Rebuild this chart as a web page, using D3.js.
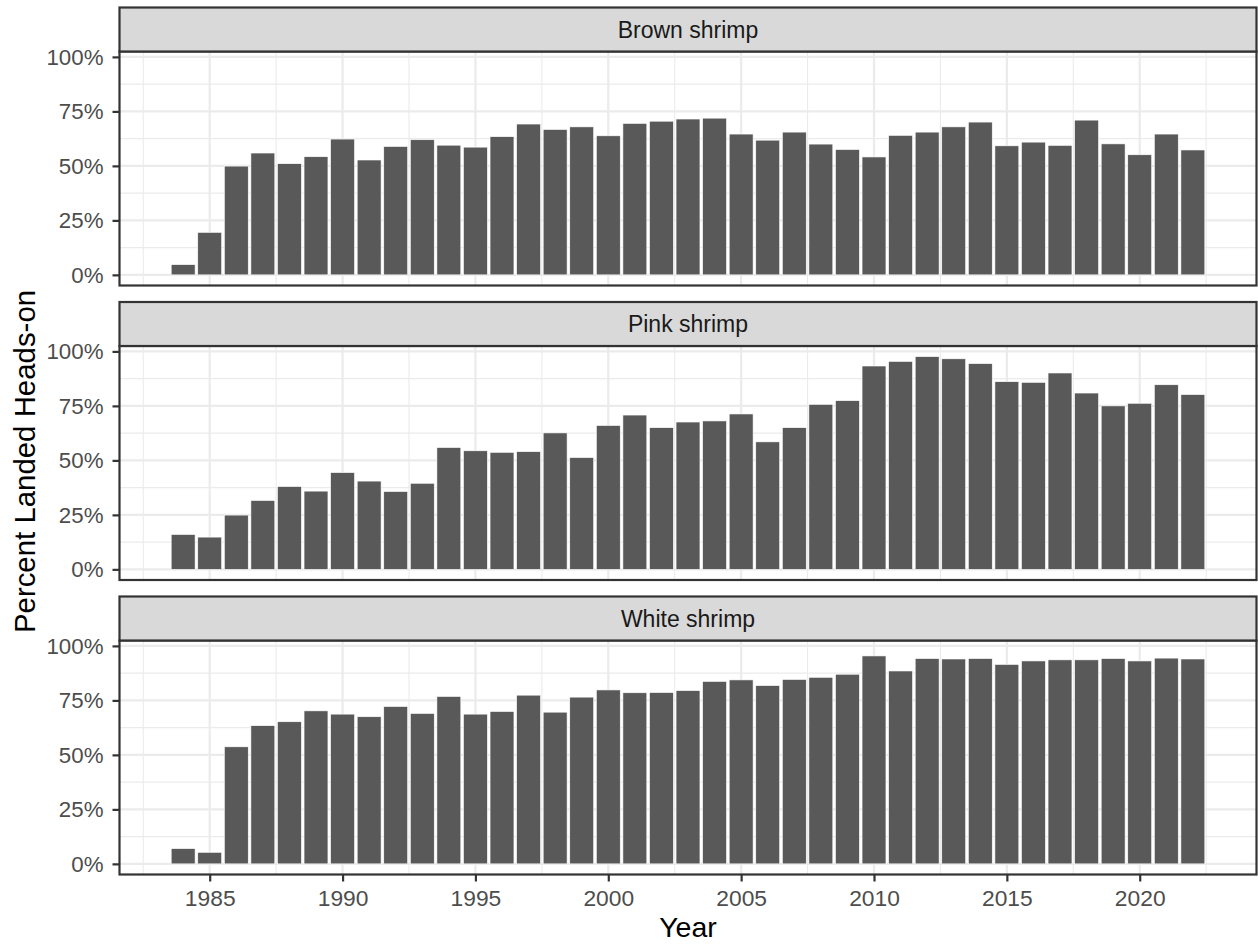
<!DOCTYPE html>
<html>
<head>
<meta charset="utf-8">
<script src="https://cdn.jsdelivr.net/npm/d3@7"></script>
<style>
body{margin:0;background:#fff;}
text{font-family:"Liberation Sans",Arial,sans-serif;}
</style>
</head>
<body>
<svg id="chart" width="1258" height="945"></svg>
<script>
// data (fraction landed heads-on)
var years=[1984,1985,1986,1987,1988,1989,1990,1991,1992,1993,1994,1995,1996,1997,1998,1999,2000,2001,2002,2003,
  2004,2005,2006,2007,2008,2009,2010,2011,2012,2013,2014,2015,2016,2017,2018,2019,2020,2021,2022];
var brown=[0.047,0.195,0.499,0.559,0.51,0.542,0.623,0.527,0.589,0.62,
  0.595,0.586,0.634,0.692,0.667,0.679,0.638,0.695,0.705,0.715,
  0.719,0.646,0.618,0.655,0.60,0.575,0.541,0.64,0.655,0.679,
  0.701,0.592,0.609,0.594,0.71,0.601,0.551,0.646,0.573];
var pink=[0.16,0.148,0.249,0.316,0.38,0.359,0.444,0.405,0.357,0.395,
  0.559,0.544,0.537,0.54,0.626,0.513,0.66,0.708,0.65,0.676,
  0.681,0.713,0.585,0.65,0.757,0.774,0.933,0.954,0.976,0.966,
  0.944,0.861,0.858,0.901,0.809,0.75,0.762,0.847,0.802];
var white=[0.07,0.053,0.537,0.634,0.652,0.702,0.687,0.675,0.722,0.69,
  0.768,0.687,0.699,0.774,0.696,0.765,0.798,0.785,0.786,0.795,
  0.837,0.844,0.818,0.846,0.856,0.87,0.954,0.885,0.942,0.94,
  0.942,0.915,0.931,0.936,0.936,0.942,0.931,0.944,0.94];
var species=['Brown shrimp','Pink shrimp','White shrimp'];
var series=[brown,pink,white];
var yTicks=[0,0.25,0.5,0.75,1];
var yMinor=[0.125,0.375,0.625,0.875];
var xTicks=[1985,1990,1995,2000,2005,2010,2015,2020];
var xMinor=[1982.5,1987.5,1992.5,1997.5,2002.5,2007.5,2012.5,2017.5,2022.5];

var left=119.5,right=1256.5,top0=7.5,stripH=44,panelH=234,step=294.5;
var barW=0.9;

var svg=d3.select('#chart');

// x scale like ggplot: bar extent + 5% expansion
var x0=d3.min(years)-barW/2, x1=d3.max(years)+barW/2;
var xpad=(x1-x0)*0.05;
var x=d3.scaleLinear().domain([x0-xpad,x1+xpad]).range([left,right]);

// shared y scale (fixed facets)
var ymax=d3.max(series,function(s){return d3.max(s);});
var yDom=[-ymax*0.05,ymax*1.05];

series.forEach(function(vals,i){
  var sTop=top0+i*step;
  var pTop=sTop+stripH;
  var pBot=pTop+panelH;
  var y=d3.scaleLinear().domain(yDom).range([pBot,pTop]);
  var g=svg.append('g');

  g.append('rect').attr('x',left).attr('y',pTop).attr('width',right-left).attr('height',panelH).attr('fill','white');

  // minor grid
  g.selectAll('.ymin').data(yMinor).enter().append('line')
    .attr('x1',left).attr('x2',right).attr('y1',function(d){return y(d);}).attr('y2',function(d){return y(d);})
    .attr('stroke','#ebebeb').attr('stroke-width',1.1);
  g.selectAll('.xmin').data(xMinor).enter().append('line')
    .attr('y1',pTop).attr('y2',pBot).attr('x1',function(d){return x(d);}).attr('x2',function(d){return x(d);})
    .attr('stroke','#ebebeb').attr('stroke-width',1.1);
  // major grid
  g.selectAll('.ymaj').data(yTicks).enter().append('line')
    .attr('x1',left).attr('x2',right).attr('y1',function(d){return y(d);}).attr('y2',function(d){return y(d);})
    .attr('stroke','#ebebeb').attr('stroke-width',2.2);
  g.selectAll('.xmaj').data(xTicks).enter().append('line')
    .attr('y1',pTop).attr('y2',pBot).attr('x1',function(d){return x(d);}).attr('x2',function(d){return x(d);})
    .attr('stroke','#ebebeb').attr('stroke-width',2.2);

  // bars
  g.selectAll('.bar').data(vals).enter().append('rect')
    .attr('x',function(d,j){return x(years[j]-barW/2);})
    .attr('width',function(d,j){return x(years[j]+barW/2)-x(years[j]-barW/2);})
    .attr('y',function(d){return y(d);})
    .attr('height',function(d){return y(0)-y(d);})
    .attr('fill','#595959').attr('stroke','#ffffff').attr('stroke-width',0.6);

  // panel border
  g.append('rect').attr('x',left).attr('y',pTop).attr('width',right-left).attr('height',panelH)
    .attr('fill','none').attr('stroke','#333333').attr('stroke-width',2.2);

  // strip
  g.append('rect').attr('x',left).attr('y',sTop).attr('width',right-left).attr('height',stripH)
    .attr('fill','#d9d9d9').attr('stroke','#333333').attr('stroke-width',2.2);
  g.append('text').attr('x',(left+right)/2).attr('y',sTop+stripH/2+8)
    .attr('text-anchor','middle').attr('font-size',23).attr('fill','#1a1a1a').text(species[i]);

  // y axis
  var ya=g.append('g').attr('transform','translate('+left+',0)')
    .call(d3.axisLeft(y).tickValues(yTicks).tickFormat(d3.format('.0%')).tickSize(7).tickPadding(9));
  ya.select('.domain').remove();
  ya.selectAll('line').attr('stroke','#333333').attr('stroke-width',2.2);
  ya.selectAll('text').attr('font-size',22.3).attr('fill','#4d4d4d').attr('font-family','"Liberation Sans",Arial,sans-serif');

  if(i===series.length-1){
    var xa=g.append('g').attr('transform','translate(0,'+pBot+')')
      .call(d3.axisBottom(x).tickValues(xTicks).tickFormat(d3.format('d')).tickSize(7).tickPadding(8));
    xa.select('.domain').remove();
    xa.selectAll('line').attr('stroke','#333333').attr('stroke-width',2.2);
    xa.selectAll('text').attr('font-size',22.8).attr('fill','#4d4d4d').attr('font-family','"Liberation Sans",Arial,sans-serif');
  }
});

svg.append('text').attr('x',(left+right)/2).attr('y',937).attr('text-anchor','middle')
  .attr('font-size',28.5).attr('fill','#000').text('Year');
svg.append('text').attr('transform','translate(35,461.5) rotate(-90)').attr('text-anchor','middle')
  .attr('font-size',29.4).attr('fill','#000').text('Percent Landed Heads-on');
</script>
</body>
</html>
